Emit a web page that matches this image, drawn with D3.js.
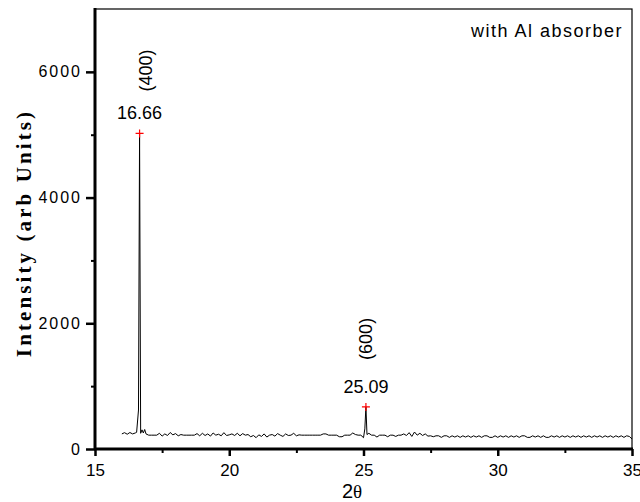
<!DOCTYPE html>
<html>
<head>
<meta charset="utf-8">
<script src="https://d3js.org/d3.v7.min.js"></script>
<style>
  body { margin: 0; background: #fff; }
  svg { display: block; }
</style>
</head>
<body>
<svg width="640" height="502"></svg>
<script>
// 2theta positions of the scan (degrees)
var twoTheta = [
  16.0,16.1,16.2,16.3,16.4,16.5,16.55,16.62,16.66,16.7,16.75,16.8,16.85,16.9,
  17.0,17.1,17.2,17.3,17.4,17.5,17.6,17.7,17.8,17.9,
  18.0,18.1,18.2,18.3,18.4,18.5,18.6,18.7,18.8,18.9,
  19.0,19.1,19.2,19.3,19.4,19.5,19.6,19.7,19.8,19.9,
  20.0,20.1,20.2,20.3,20.4,20.5,20.6,20.7,20.8,20.9,
  21.0,21.1,21.2,21.3,21.4,21.5,21.6,21.7,21.8,21.9,
  22.0,22.1,22.2,22.3,22.4,22.5,22.6,22.7,22.8,22.9,
  23.0,23.1,23.2,23.3,23.4,23.5,23.6,23.7,23.8,23.9,
  24.0,24.1,24.2,24.3,24.4,24.5,24.6,24.7,24.8,24.9,
  25.0,25.05,25.09,25.13,25.2,25.3,25.4,25.5,25.6,25.7,25.8,25.9,
  26.0,26.1,26.2,26.3,26.4,26.5,26.6,26.7,26.8,26.9,
  27.0,27.1,27.2,27.3,27.4,27.5,27.6,27.7,27.8,27.9,
  28.0,28.1,28.2,28.3,28.4,28.5,28.6,28.7,28.8,28.9,
  29.0,29.1,29.2,29.3,29.4,29.5,29.6,29.7,29.8,29.9,
  30.0,30.1,30.2,30.3,30.4,30.5,30.6,30.7,30.8,30.9,
  31.0,31.1,31.2,31.3,31.4,31.5,31.6,31.7,31.8,31.9,
  32.0,32.1,32.2,32.3,32.4,32.5,32.6,32.7,32.8,32.9,
  33.0,33.1,33.2,33.3,33.4,33.5,33.6,33.7,33.8,33.9,
  34.0,34.1,34.2,34.3,34.4,34.5,34.6,34.7,34.8,34.9,35.0
];

// intensity (arb units)
var counts = [
  240,260,235,262,240,255,265,620,5020,250,305,255,310,240,
  220,220,220,220,250,205,240,215,262,225,
  245,210,230,220,220,220,220,220,245,210,
  250,215,240,205,255,220,235,210,260,215,
  225,240,215,250,210,245,220,230,195,215,
  180,225,200,240,190,220,230,205,245,220,
  200,240,215,220,250,210,225,220,220,220,
  220,220,220,220,220,240,240,220,220,220,
  220,195,195,220,220,220,255,230,220,220,
  180,320,670,230,250,220,220,190,220,220,220,195,
  220,220,200,220,220,240,215,260,200,270,
  220,250,215,240,205,210,195,210,210,185,
  210,210,185,210,190,210,185,210,190,210,
  185,210,190,210,185,210,210,185,185,210,
  185,210,190,210,185,210,190,210,185,210,
  210,185,185,210,190,210,185,210,185,185,
  210,190,210,185,210,190,210,185,210,190,
  210,185,210,190,210,185,210,190,210,185,
  210,190,210,185,210,190,210,185,210,200,160
];

// labelled reflections
var peakPos = [16.66, 25.09];
var peakInt = [5020, 670];
var peakHkl = ["(400)", "(600)"];

var xTicks = [15, 20, 25, 30, 35];
var xMinor = [17.5, 22.5, 27.5, 32.5];
var yTicks = [0, 2000, 4000, 6000];
var yMinor = [1000, 3000, 5000];

var svg = d3.select("svg"),
    mLeft = 95, mRight = 632, mTop = 9, mBottom = 449;

var x = d3.scaleLinear().domain([15, 35]).range([mLeft, mRight]);
var y = d3.scaleLinear().domain([0, 7000]).range([mBottom, mTop]);

var data = twoTheta.map(function(t, i) { return [t, counts[i]]; });

// frame (thin top/right)
svg.append("rect")
    .attr("x", mLeft).attr("y", mTop)
    .attr("width", mRight - mLeft).attr("height", mBottom - mTop)
    .attr("fill", "none").attr("stroke", "#000").attr("stroke-width", 1.2);

// pattern
svg.append("path")
    .datum(data)
    .attr("fill", "none")
    .attr("stroke", "#000")
    .attr("stroke-width", 1)
    .attr("d", d3.line()
        .x(function(d) { return x(d[0]); })
        .y(function(d) { return y(d[1]); }));

/* --------- x-axis --------- */
var gx = svg.append("g")
    .attr("transform", "translate(0," + mBottom + ")")
    .call(d3.axisBottom(x).tickValues(xTicks).tickSize(7).tickPadding(8).tickFormat(d3.format("d")));
gx.select(".domain").attr("stroke-width", 3).attr("d", "M" + (mLeft - 1) + ",0H" + (mRight + 1));
gx.selectAll(".tick line").attr("stroke-width", 2.5);
gx.selectAll("text").attr("font-family", "Liberation Sans, Arial, sans-serif").attr("font-size", 17).attr("fill", "#000");
svg.append("g")
    .attr("transform", "translate(0," + mBottom + ")")
    .call(d3.axisBottom(x).tickValues(xMinor).tickSize(4).tickFormat(""))
    .call(function(g) { g.select(".domain").remove(); g.selectAll("line").attr("stroke-width", 2); });

/* --------- y-axis --------- */
var gy = svg.append("g")
    .attr("transform", "translate(" + mLeft + ",0)")
    .call(d3.axisLeft(y).tickValues(yTicks).tickSize(9).tickPadding(4).tickFormat(d3.format("d")));
gy.select(".domain").attr("stroke-width", 3).attr("d", "M0," + (mTop - 1) + "V" + (mBottom + 1));
gy.selectAll(".tick line").attr("stroke-width", 2.5);
gy.selectAll("text").attr("font-family", "Liberation Sans, Arial, sans-serif").attr("font-size", 16)
    .attr("letter-spacing", 2).attr("fill", "#000");
svg.append("g")
    .attr("transform", "translate(" + mLeft + ",0)")
    .call(d3.axisLeft(y).tickValues(yMinor).tickSize(4).tickFormat(""))
    .call(function(g) { g.select(".domain").remove(); g.selectAll("line").attr("stroke-width", 2); });

// axis titles
svg.append("text")
    .attr("x", 352).attr("y", 498)
    .attr("text-anchor", "middle")
    .attr("font-family", "Liberation Sans, Arial, sans-serif")
    .attr("font-size", 20)
    .html('2<tspan font-family="Liberation Serif, Times New Roman, serif" font-size="19">\u03b8</tspan>');

svg.append("text")
    .attr("transform", "translate(31,233) rotate(-90)")
    .attr("text-anchor", "middle")
    .attr("font-family", "Liberation Serif, Times New Roman, serif")
    .attr("font-weight", "bold")
    .attr("font-size", 21)
    .attr("letter-spacing", 3.1)
    .text("Intensity (arb Units)");

svg.append("text")
    .attr("x", 623).attr("y", 37)
    .attr("text-anchor", "end")
    .attr("font-family", "Liberation Sans, Arial, sans-serif")
    .attr("font-size", 18)
    .attr("letter-spacing", 1.5)
    .text("with Al absorber");

// label offsets for the hkl tags (px)
var hklDx = [12, 6], hklDy = [63, 68];

// peak markers and labels
peakPos.forEach(function(p, i) {
    var px = x(p), py = y(peakInt[i]);
    svg.append("path")
        .attr("d", "M" + (px - 4) + "," + py + "H" + (px + 4) + "M" + px + "," + (py - 4) + "V" + (py + 4))
        .attr("stroke", "red").attr("stroke-width", 1.2);
    svg.append("text")
        .attr("x", px).attr("y", py - 14)
        .attr("text-anchor", "middle")
        .attr("font-family", "Liberation Sans, Arial, sans-serif")
        .attr("font-size", 18)
        .text(p.toFixed(2));
    svg.append("text")
        .attr("transform", "translate(" + (px + hklDx[i]) + "," + (py - hklDy[i]) + ") rotate(-90)")
        .attr("text-anchor", "middle")
        .attr("font-family", "Liberation Sans, Arial, sans-serif")
        .attr("font-size", 18)
        .text(peakHkl[i]);
});
</script>
</body>
</html>
